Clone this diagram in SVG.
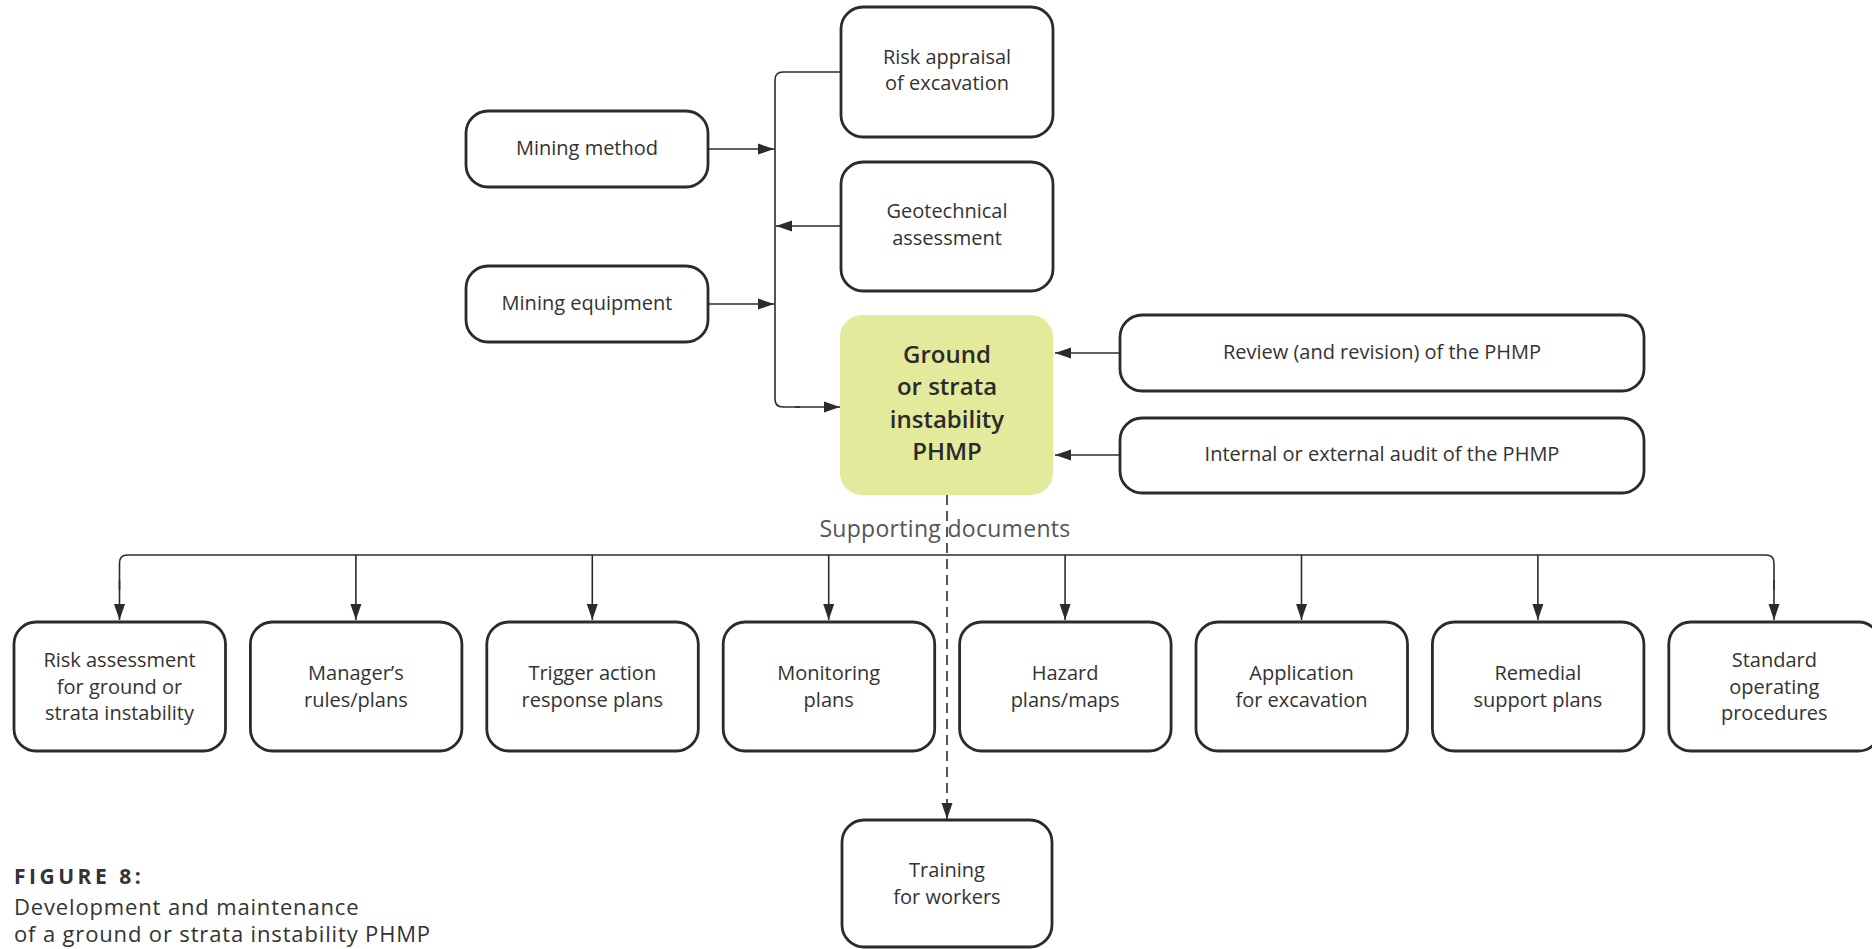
<svg xmlns="http://www.w3.org/2000/svg" width="1872" height="949" viewBox="0 0 1872 949">
<style>
.box{fill:#ffffff;stroke:#2b2b2b;stroke-width:2.8}
.core{fill:#e3ea9c;stroke:none}
.t{font-family:"Open Sans","Liberation Sans",sans-serif;font-size:20px;font-weight:400;fill:#333333;text-anchor:middle}
.tb{font-family:"Open Sans","Liberation Sans",sans-serif;font-size:24px;font-weight:600;fill:#2b2b2b;text-anchor:middle}
.lbl{font-family:"Open Sans","Liberation Sans",sans-serif;font-size:23px;font-weight:400;letter-spacing:0.3px;fill:#555555;text-anchor:middle}
.cap{font-family:"Open Sans","Liberation Sans",sans-serif;font-size:22px;letter-spacing:0.85px;fill:#333333}
.capb{font-family:"Open Sans","Liberation Sans",sans-serif;font-size:21px;font-weight:700;letter-spacing:3.5px;fill:#333333}
.c{fill:none;stroke:#2b2b2b;stroke-width:1.6;marker-end:url(#ah)}
.cn{fill:none;stroke:#2b2b2b;stroke-width:1.6}
.d{fill:none;stroke:#2b2b2b;stroke-width:1.6;stroke-dasharray:10 6;marker-end:url(#ah)}
</style>
<defs>
<marker id="ah" markerUnits="userSpaceOnUse" markerWidth="16" markerHeight="12" refX="16" refY="6" orient="auto">
<path d="M0,0.5 L16,6 L0,11.5 z" fill="#2b2b2b"/>
</marker>
</defs>
<rect width="1872" height="949" fill="#ffffff"/>
<g id="connectors">
<path class="cn" d="M841,72 H783 Q775,72 775,80 V399 Q775,407 783,407 H800"/>
<path class="c" d="M795,407 H840"/>
<path class="c" d="M708,149 H774"/>
<path class="c" d="M708,304 H774"/>
<path class="c" d="M841,226 H776"/>
<path class="c" d="M1120,353 H1055"/>
<path class="c" d="M1120,455 H1055"/>
<path class="cn" d="M119.5,590 V563 Q119.5,555 127.5,555 H1766 Q1774,555 1774,563 V590"/>
<path class="c" d="M119.5,580 V620"/>
<path class="c" d="M1774,580 V620"/>
<path class="c" d="M355.9,555 V620"/>
<path class="c" d="M592.3,555 V620"/>
<path class="c" d="M828.7,555 V620"/>
<path class="c" d="M1065.1,555 V620"/>
<path class="c" d="M1301.5,555 V620"/>
<path class="c" d="M1537.9,555 V620"/>
<path class="d" d="M947,495 V819"/>
</g>
<g id="n-risk-appraisal"><rect class="box" x="841" y="7" width="212" height="130" rx="22"/><text class="t" x="947" y="64">Risk appraisal</text><text class="t" x="947" y="90">of excavation</text></g>
<g id="n-mining-method"><rect class="box" x="466" y="111" width="242" height="76" rx="22"/><text class="t" x="587" y="155">Mining method</text></g>
<g id="n-geotechnical"><rect class="box" x="841" y="162" width="212" height="129" rx="22"/><text class="t" x="947" y="218">Geotechnical</text><text class="t" x="947" y="245">assessment</text></g>
<g id="n-mining-equipment"><rect class="box" x="466" y="266" width="242" height="76" rx="22"/><text class="t" x="587" y="310">Mining equipment</text></g>
<g id="n-phmp"><rect class="core" x="840" y="315" width="213" height="180" rx="22"/><text class="tb" x="947" y="363">Ground</text><text class="tb" x="947" y="395">or strata</text><text class="tb" x="947" y="428">instability</text><text class="tb" x="947" y="460">PHMP</text></g>
<g id="n-review"><rect class="box" x="1120" y="315" width="524" height="76" rx="22"/><text class="t" x="1382" y="359">Review (and revision) of the PHMP</text></g>
<g id="n-audit"><rect class="box" x="1120" y="418" width="524" height="75" rx="22"/><text class="t" x="1382" y="461">Internal or external audit of the PHMP</text></g>
<text id="supporting-label" class="lbl" x="945" y="537">Supporting documents</text>
<g id="n-risk-assessment"><rect class="box" x="14" y="622" width="211.5" height="129" rx="22"/><text class="t" x="119.5" y="667">Risk assessment</text><text class="t" x="119.5" y="693.5">for ground or</text><text class="t" x="119.5" y="720">strata instability</text></g>
<g id="n-managers-rules"><rect class="box" x="250.4" y="622" width="211.5" height="129" rx="22"/><text class="t" x="355.9" y="680">Manager’s</text><text class="t" x="355.9" y="707">rules/plans</text></g>
<g id="n-trigger"><rect class="box" x="486.8" y="622" width="211.5" height="129" rx="22"/><text class="t" x="592.3" y="680">Trigger action</text><text class="t" x="592.3" y="707">response plans</text></g>
<g id="n-monitoring"><rect class="box" x="723.2" y="622" width="211.5" height="129" rx="22"/><text class="t" x="828.7" y="680">Monitoring</text><text class="t" x="828.7" y="707">plans</text></g>
<g id="n-hazard"><rect class="box" x="959.6" y="622" width="211.5" height="129" rx="22"/><text class="t" x="1065.1" y="680">Hazard</text><text class="t" x="1065.1" y="707">plans/maps</text></g>
<g id="n-application"><rect class="box" x="1196" y="622" width="211.5" height="129" rx="22"/><text class="t" x="1301.5" y="680">Application</text><text class="t" x="1301.5" y="707">for excavation</text></g>
<g id="n-remedial"><rect class="box" x="1432.4" y="622" width="211.5" height="129" rx="22"/><text class="t" x="1537.9" y="680">Remedial</text><text class="t" x="1537.9" y="707">support plans</text></g>
<g id="n-sop"><rect class="box" x="1668.8" y="622" width="211.5" height="129" rx="22"/><text class="t" x="1774.3" y="667">Standard</text><text class="t" x="1774.3" y="693.5">operating</text><text class="t" x="1774.3" y="720">procedures</text></g>
<g id="n-training"><rect class="box" x="842" y="820" width="210" height="127" rx="22"/><text class="t" x="947" y="877">Training</text><text class="t" x="947" y="904">for workers</text></g>
<g id="caption"><text class="capb" x="14" y="884">FIGURE 8:</text><text class="cap" x="14" y="915">Development and maintenance</text><text class="cap" x="14" y="942">of a ground or strata instability PHMP</text></g>
</svg>
